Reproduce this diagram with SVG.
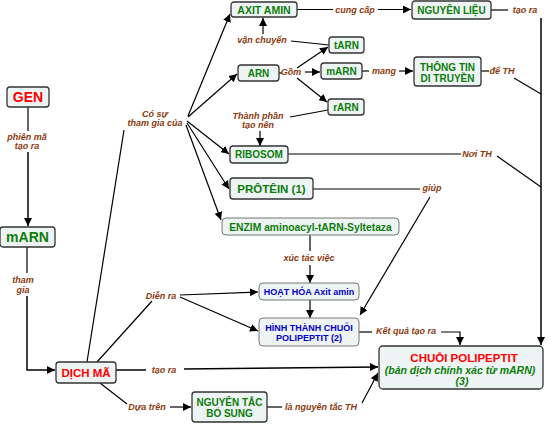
<svg xmlns="http://www.w3.org/2000/svg" width="558" height="426" viewBox="0 0 558 426">
<style>
.box{fill:#eef3f3;stroke:#333;stroke-width:1.3}
.boxl{fill:#eef3f3;stroke:#777;stroke-width:1}
text{font-family:"Liberation Sans",Arial,sans-serif;font-weight:bold;text-anchor:middle}
.g{fill:#0b7d0b}
.r{fill:#ff0000}
.b{fill:#0000cc}
.lb{fill:#8b3a0e;font-style:italic;font-size:9px}
.c line,.c polyline{stroke:#000;stroke-width:1.2;fill:none}
.c .a{marker-end:url(#ah)}
</style>
<defs>
<marker id="ah" viewBox="0 0 10 10" refX="10" refY="5" markerWidth="8" markerHeight="8" markerUnits="userSpaceOnUse" orient="auto">
<path d="M0,0 L10,5 L0,10 z" fill="#000"/>
</marker>
</defs>
<rect width="558" height="426" fill="#fff"/>
<g class="c">
<line x1="297" y1="9.5" x2="333" y2="9.5"/>
<line class="a" x1="378" y1="9.5" x2="411" y2="9.5"/>
<line x1="491" y1="10" x2="508" y2="10"/>
<line class="a" x1="541" y1="18" x2="541" y2="345" style="stroke-width:1.5"/>
<line x1="329" y1="45" x2="291" y2="41"/>
<line class="a" x1="263" y1="34" x2="263" y2="18"/>
<line x1="279" y1="73" x2="282" y2="73"/>
<line class="a" x1="297" y1="68" x2="328" y2="47"/>
<line class="a" x1="305" y1="72" x2="320" y2="72"/>
<line class="a" x1="297" y1="78" x2="327" y2="102"/>
<line x1="362" y1="71" x2="369" y2="71"/>
<line class="a" x1="399" y1="71" x2="413" y2="71"/>
<line x1="481" y1="71" x2="489" y2="71"/>
<line x1="514" y1="78" x2="541" y2="94"/>
<line x1="328" y1="110" x2="290" y2="117"/>
<line class="a" x1="260" y1="131" x2="260" y2="146"/>
<line x1="288" y1="154" x2="461" y2="154"/>
<line x1="497" y1="156" x2="541" y2="187"/>
<line x1="313" y1="189" x2="420" y2="189"/>
<line class="a" x1="430" y1="197" x2="360" y2="315"/>
<line x1="310" y1="235" x2="310" y2="251"/>
<line class="a" x1="310" y1="265" x2="310" y2="283"/>
<line class="a" x1="310" y1="300" x2="310" y2="318"/>
<line x1="359" y1="332" x2="372" y2="332"/>
<polyline class="a" points="441,332 460,332 460,345"/>
<line x1="28" y1="107" x2="28" y2="131"/>
<line class="a" x1="28" y1="152" x2="28" y2="226" style="stroke-width:1.5"/>
<line x1="27" y1="247" x2="27" y2="273"/>
<polyline class="a" points="27,296 27,370 55,370" style="stroke-width:1.5"/>
<line x1="87" y1="362" x2="124" y2="130"/>
<line class="a" x1="188" y1="116" x2="230" y2="14"/>
<line class="a" x1="188" y1="117" x2="237" y2="74"/>
<line class="a" x1="187" y1="121" x2="229" y2="154"/>
<line class="a" x1="187" y1="123" x2="229" y2="189"/>
<line class="a" x1="186" y1="125" x2="221" y2="220"/>
<line x1="97" y1="362" x2="152" y2="301"/>
<line class="a" x1="180" y1="295" x2="258" y2="292"/>
<line class="a" x1="180" y1="297" x2="258" y2="331"/>
<line x1="116" y1="370" x2="146" y2="370" style="stroke-width:1.5"/>
<line class="a" x1="184" y1="369" x2="378" y2="367" style="stroke-width:1.5"/>
<line x1="100" y1="383" x2="127" y2="404"/>
<line class="a" x1="170" y1="407" x2="191" y2="407"/>
<line x1="267" y1="407" x2="282" y2="407"/>
<line class="a" x1="362" y1="403" x2="378" y2="373"/>
</g>
<g id="labels">
<text class="lb" x="355" y="12.5">cung cấp</text>
<text class="lb" x="525" y="13">tạo ra</text>
<text class="lb" x="262" y="43">vận chuyển</text>
<text class="lb" x="291" y="75">Gồm</text>
<text class="lb" x="384" y="74">mang</text>
<text class="lb" x="502" y="74">để TH</text>
<text class="lb" x="258" y="119">Thành phần</text>
<text class="lb" x="258" y="128">tạo nên</text>
<text class="lb" x="155" y="117">Có sự</text>
<text class="lb" x="155" y="126">tham gia của</text>
<text class="lb" x="477" y="157">Nơi TH</text>
<text class="lb" x="432" y="191">giúp</text>
<text class="lb" x="309" y="261">xúc tác việc</text>
<text class="lb" x="27" y="140">phiên mã</text>
<text class="lb" x="27" y="149">tạo ra</text>
<text class="lb" x="23" y="283">tham</text>
<text class="lb" x="23" y="293">gia</text>
<text class="lb" x="161" y="299">Diễn ra</text>
<text class="lb" x="406" y="334">Kết quả tạo ra</text>
<text class="lb" x="164" y="373">tạo ra</text>
<text class="lb" x="147" y="410">Dựa trên</text>
<text class="lb" x="321" y="410">là nguyên tắc TH</text>
</g>
<g id="axit-amin"><rect class="box" x="231" y="2" width="66" height="15" rx="3"/><text class="g" x="264" y="13.5" font-size="10.5">AXIT AMIN</text></g>
<g id="nguyen-lieu"><rect class="box" x="412" y="1" width="79" height="18" rx="3"/><text class="g" x="451.5" y="13.5" font-size="10">NGUYÊN LIỆU</text></g>
<g id="tarn"><rect class="box" x="329" y="37" width="35" height="16" rx="3"/><text class="g" x="346.5" y="48.5" font-size="10">tARN</text></g>
<g id="arn"><rect class="box" x="238" y="65" width="41" height="16" rx="3"/><text class="g" x="258.5" y="76.5" font-size="10">ARN</text></g>
<g id="marn2"><rect class="box" x="321" y="63" width="41" height="16" rx="3"/><text class="g" x="341.5" y="74.5" font-size="10">mARN</text></g>
<g id="rarn"><rect class="box" x="328" y="99" width="36" height="16" rx="3"/><text class="g" x="346" y="110.5" font-size="10">rARN</text></g>
<g id="thong-tin"><rect class="box" x="414" y="57" width="67" height="29" rx="3"/><text class="g" x="447.5" y="70.5" font-size="10">THÔNG TIN</text><text class="g" x="447.5" y="81.5" font-size="10">DI TRUYỀN</text></g>
<g id="ribosom"><rect class="box" x="230" y="146" width="58" height="17" rx="3"/><text class="g" x="259" y="158" font-size="10">RIBOSOM</text></g>
<g id="protein"><rect class="box" x="230" y="178" width="83" height="21" rx="3"/><text class="g" x="271.5" y="192.5" font-size="11.5">PRÔTÊIN (1)</text></g>
<g id="enzim"><rect class="boxl" x="222" y="218" width="177" height="17" rx="4"/><text class="g" x="310.5" y="230.5" font-size="10.3">ENZIM aminoacyl-tARN-Syltetaza</text></g>
<g id="hoat-hoa"><rect class="boxl" x="259" y="283" width="100" height="17" rx="4"/><text class="b" x="309" y="295" font-size="9">HOẠT HÓA Axit amin</text></g>
<g id="hinh-thanh"><rect class="boxl" x="259" y="318" width="100" height="28" rx="4"/><text class="b" x="309" y="330.5" font-size="9">HÌNH THÀNH CHUỖI</text><text class="b" x="309" y="341" font-size="9">POLIPEPTIT (2)</text></g>
<g id="chuoi"><rect class="box" x="379" y="346" width="164" height="43" rx="4"/><text class="r" x="464" y="362" font-size="11.5">CHUỖI POLIPEPTIT</text><text class="g" x="460" y="374" font-size="10.5" font-style="italic">(bản dịch chính xác từ mARN)</text><text class="g" x="462" y="385" font-size="10.5" font-style="italic">(3)</text></g>
<g id="gen"><rect class="box" x="7" y="87" width="42" height="20" rx="3"/><text class="r" x="28" y="102" font-size="14">GEN</text></g>
<g id="marn"><rect class="box" x="0" y="227" width="55" height="20" rx="3"/><text class="g" x="27.5" y="242" font-size="14">mARN</text></g>
<g id="dich-ma"><rect class="box" x="56" y="362" width="60" height="21" rx="3"/><text class="r" x="86" y="376.5" font-size="11.5">DỊCH MÃ</text></g>
<g id="nguyen-tac"><rect class="box" x="192" y="392" width="75" height="30" rx="3"/><text class="g" x="229.5" y="406" font-size="10">NGUYÊN TẮC</text><text class="g" x="229.5" y="417" font-size="10">BỔ SUNG</text></g>
</svg>
